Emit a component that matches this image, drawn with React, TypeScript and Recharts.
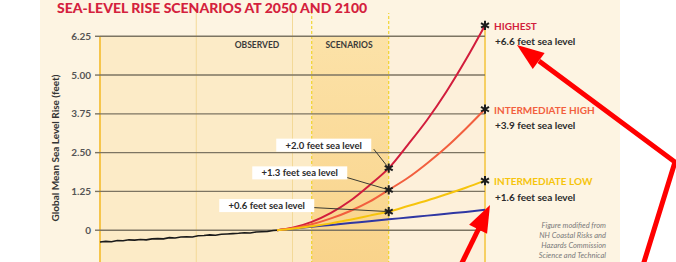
import React from "react";
import {
  LineChart,
  Line,
  XAxis,
  YAxis,
  ReferenceArea,
  ReferenceLine,
  ReferenceDot,
} from "recharts";

// observed global mean sea level, feet relative to 1992
const observedYears = [
  1900, 1903, 1906, 1909, 1912, 1915, 1918, 1921, 1924, 1927, 1930, 1933, 1936, 1939, 1942, 1945,
  1948, 1951, 1954, 1957, 1960, 1963, 1966, 1969, 1972, 1975, 1978, 1981, 1984, 1987, 1990, 1992,
];
const observedValues = [
  -0.38, -0.36, -0.37, -0.33, -0.34, -0.31, -0.32, -0.3, -0.31, -0.28, -0.27, -0.28, -0.24, -0.25,
  -0.22, -0.21, -0.22, -0.18, -0.17, -0.15, -0.16, -0.13, -0.12, -0.11, -0.1, -0.08, -0.09, -0.06,
  -0.05, -0.04, -0.01, 0,
];

// scenarios, feet
const scenarioYears = [1992, 2000, 2010, 2020, 2030, 2040, 2050, 2060, 2070, 2080, 2090, 2100];
const highest = [0, 0.08, 0.27, 0.56, 0.95, 1.45, 2.0, 2.76, 3.56, 4.47, 5.49, 6.6];
const intermediateHigh = [0, 0.06, 0.19, 0.38, 0.62, 0.92, 1.3, 1.69, 2.16, 2.68, 3.27, 3.9];
const intermediateLow = [0, 0.05, 0.13, 0.22, 0.34, 0.47, 0.6, 0.78, 0.96, 1.16, 1.37, 1.6];
const lowest = [0, 0.05, 0.11, 0.17, 0.23, 0.29, 0.35, 0.41, 0.47, 0.53, 0.59, 0.66];

const scenarioNames = ["HIGHEST", "INTERMEDIATE HIGH", "INTERMEDIATE LOW"];
const labels2050 = ["+2.0 feet sea level", "+1.3 feet sea level", "+0.6 feet sea level"];
const labels2100 = ["+6.6 feet sea level", "+3.9 feet sea level", "+1.6 feet sea level"];

const yTicks = [-1.25, 0, 1.25, 2.5, 3.75, 5, 6.25];
const xDomain = [1900, 2100];
const observedEnd = 2010;
const midYear = 2050;
const endYear = 2100;
const decadeLines = [1950, 2000];

const footnote = [
  "Figure modified from",
  "NH Coastal Risks and",
  "Hazards Commission",
  "Science and Technical",
];

const FONT = "Lato, 'Open Sans', sans-serif";
const COLORS = ["#d21d3c", "#f25f3e", "#f6c40c"];
const BLUE = "#2f37a3";

// pixel offsets of the 2050 callouts from their star
const callouts = [
  { tx: -65, ty: -23, lx: -15, ly: -19 },
  { tx: -89, ty: -17, lx: -44, ly: -13 },
  { tx: -122, ty: -6, lx: -75, ly: -4 },
];

const toRows = (xs: number[], ys: number[]) => xs.map((year, i) => ({ year, value: ys[i] }));

const scenarioSeries = [highest, intermediateHigh, intermediateLow];

function Asterisk({ cx, cy }: { cx: number; cy: number }) {
  const r = 4.6;
  return (
    <g stroke="#1d1d1d" strokeWidth={2}>
      {[90, 30, -30].map((a) => {
        const rad = (a * Math.PI) / 180;
        const dx = Math.cos(rad) * r;
        const dy = Math.sin(rad) * r;
        return <line key={a} x1={cx - dx} y1={cy - dy} x2={cx + dx} y2={cy + dy} />;
      })}
    </g>
  );
}

function Callout2050(idx: number) {
  return (props: any) => {
    const { cx, cy } = props;
    const o = callouts[idx];
    const w = 95;
    const h = 13;
    return (
      <g>
        <line x1={cx + o.lx} y1={cy + o.ly} x2={cx} y2={cy} stroke="#3a3a32" strokeWidth={1} />
        <rect x={cx + o.tx - w / 2} y={cy + o.ty - h / 2} width={w} height={h} fill="#ffffff" />
        <text
          x={cx + o.tx}
          y={cy + o.ty + 3.4}
          textAnchor="middle"
          fontFamily={FONT}
          fontWeight={700}
          fontSize={9.5}
          fill="#2b2b2b"
        >
          {labels2050[idx]}
        </text>
        <Asterisk cx={cx} cy={cy} />
      </g>
    );
  };
}

function Label2100(idx: number) {
  return (props: any) => {
    const { cx, cy } = props;
    return (
      <g>
        <Asterisk cx={cx} cy={cy} />
        <text
          x={cx + 9}
          y={cy + 4.5}
          fontFamily={FONT}
          fontWeight={700}
          fontSize={10}
          fill={COLORS[idx]}
        >
          {scenarioNames[idx]}
        </text>
        <text
          x={cx + 10}
          y={cy + 20}
          fontFamily={FONT}
          fontWeight={700}
          fontSize={10}
          fill="#2b2b2b"
        >
          {labels2100[idx]}
        </text>
      </g>
    );
  };
}

function arrowHead(tipX: number, tipY: number, fromX: number, fromY: number, len = 27, half = 10) {
  const dx = tipX - fromX;
  const dy = tipY - fromY;
  const d = Math.hypot(dx, dy);
  const ux = dx / d;
  const uy = dy / d;
  const bx = tipX - ux * len;
  const by = tipY - uy * len;
  return `${tipX},${tipY} ${bx - uy * half},${by + ux * half} ${bx + uy * half},${by - ux * half}`;
}

export default function App() {
  const observed = toRows(observedYears, observedValues);
  const lowRows = toRows(scenarioYears, lowest);

  return (
    <div
      style={{
        position: "fixed",
        left: 0,
        top: 0,
        width: 676,
        height: 262,
        overflow: "hidden",
        background: "#ffffff",
      }}
    >
      <div
        style={{
          position: "absolute",
          left: 40,
          top: 0,
          width: 580,
          height: 262,
          background: "#fdf4e2",
        }}
      />
      <div style={{ position: "absolute", left: 0, top: 0 }}>
        <LineChart
          width={676}
          height={269}
          margin={{ top: 13, right: 191, left: 0, bottom: 0 }}
        >
          <defs>
            <linearGradient id="scenBand" x1="0" y1="0" x2="0" y2="1">
              <stop offset="0%" stopColor="#fce2a8" />
              <stop offset="100%" stopColor="#f9d38a" />
            </linearGradient>
          </defs>
          <XAxis type="number" dataKey="year" domain={xDomain} hide height={0} allowDuplicatedCategory={false} />
          <YAxis
            type="number"
            domain={[-1.25, 7]}
            ticks={yTicks}
            width={100}
            tickSize={5}
            tickMargin={4}
            axisLine={false}
            tickLine={{ stroke: "#7c7462", strokeWidth: 1.4 }}
            tickFormatter={(v: number) => (v === 0 ? "0" : v.toFixed(2))}
            tick={{ fontFamily: FONT, fontWeight: 700, fontSize: 10, fill: "#555" }}
          />
          <ReferenceArea x1={xDomain[0]} x2={observedEnd} y1={-1.25} y2={6.25} fill="#fcebc7" fillOpacity={1} />
          <ReferenceArea x1={observedEnd} x2={midYear} y1={-1.25} y2={6.25} fill="url(#scenBand)" fillOpacity={1} />
          <ReferenceArea x1={midYear} x2={endYear} y1={-1.25} y2={6.25} fill="#fdf0da" fillOpacity={1} />
          {decadeLines.map((x) => (
            <ReferenceLine key={x} x={x} stroke="#f3d998" strokeWidth={1} />
          ))}
          <ReferenceLine x={observedEnd} stroke="#eecf10" strokeWidth={1} strokeDasharray="3 2" />
          <ReferenceLine x={midYear} stroke="#eecf10" strokeWidth={1} strokeDasharray="3 2" />
          <ReferenceLine
            segment={[{ x: xDomain[0], y: -1.25 }, { x: xDomain[0], y: 6.25 }]}
            stroke="#f6c54c"
            strokeWidth={2}
          />
          <ReferenceLine
            segment={[{ x: endYear, y: -1.25 }, { x: endYear, y: 6.5 }]}
            stroke="#f6cf63"
            strokeWidth={2}
          />
          {yTicks.map((t) => (
            <ReferenceLine key={t} y={t} stroke="#7c7462" strokeWidth={1.4} />
          ))}
          <Line
            data={observed}
            dataKey="value"
            type="linear"
            stroke="#1a1a1a"
            strokeWidth={1.6}
            dot={false}
            isAnimationActive={false}
          />
          <Line
            data={lowRows}
            dataKey="value"
            type="monotone"
            stroke={BLUE}
            strokeWidth={2}
            dot={false}
            isAnimationActive={false}
          />
          {scenarioSeries.map((s, i) => (
            <Line
              key={scenarioNames[i]}
              data={toRows(scenarioYears, s)}
              dataKey="value"
              type="monotone"
              stroke={COLORS[i]}
              strokeWidth={2}
              dot={false}
              isAnimationActive={false}
            />
          ))}
          {scenarioSeries.map((s, i) => (
            <ReferenceDot
              key={"m" + i}
              x={midYear}
              y={s[scenarioYears.indexOf(midYear)]}
              shape={Callout2050(i)}
            />
          ))}
          {scenarioSeries.map((s, i) => (
            <ReferenceDot
              key={"e" + i}
              x={endYear}
              y={s[scenarioYears.indexOf(endYear)]}
              shape={Label2100(i)}
            />
          ))}
        </LineChart>
      </div>
      <svg
        width={676}
        height={262}
        style={{ position: "absolute", left: 0, top: 0, pointerEvents: "none" }}
      >
        <text x={57} y={13} fontFamily={FONT} fontWeight={900} fontSize={14} fill="#d4213d">
          SEA-LEVEL RISE SCENARIOS AT 2050 AND 2100
        </text>
        <text
          transform="translate(59,148) rotate(-90)"
          textAnchor="middle"
          fontFamily={FONT}
          fontWeight={700}
          fontSize={10}
          fill="#333"
        >
          Global Mean Sea Level Rise (feet)
        </text>
        <text x={257} y={48} textAnchor="middle" fontFamily={FONT} fontWeight={700} fontSize={8.5} fill="#3a3a3a">
          OBSERVED
        </text>
        <text x={349} y={48} textAnchor="middle" fontFamily={FONT} fontWeight={700} fontSize={8.5} fill="#3a3a3a">
          SCENARIOS
        </text>
        {footnote.map((t, i) => (
          <text
            key={t}
            x={606}
            y={228 + i * 10}
            textAnchor="end"
            fontFamily={FONT}
            fontStyle="italic"
            fontSize={7.5}
            fill="#7a7a7a"
          >
            {t}
          </text>
        ))}
        <g stroke="#ff0000" strokeWidth={5} fill="none" strokeLinejoin="miter">
          <polyline points="539,61 675,162 640,275" />
          <line x1={456} y1={275} x2={480} y2={226} />
        </g>
        <polygon points={arrowHead(517, 45, 675, 162)} fill="#ff0000" />
        <polygon points={arrowHead(490, 205, 462, 262)} fill="#ff0000" />
      </svg>
    </div>
  );
}
